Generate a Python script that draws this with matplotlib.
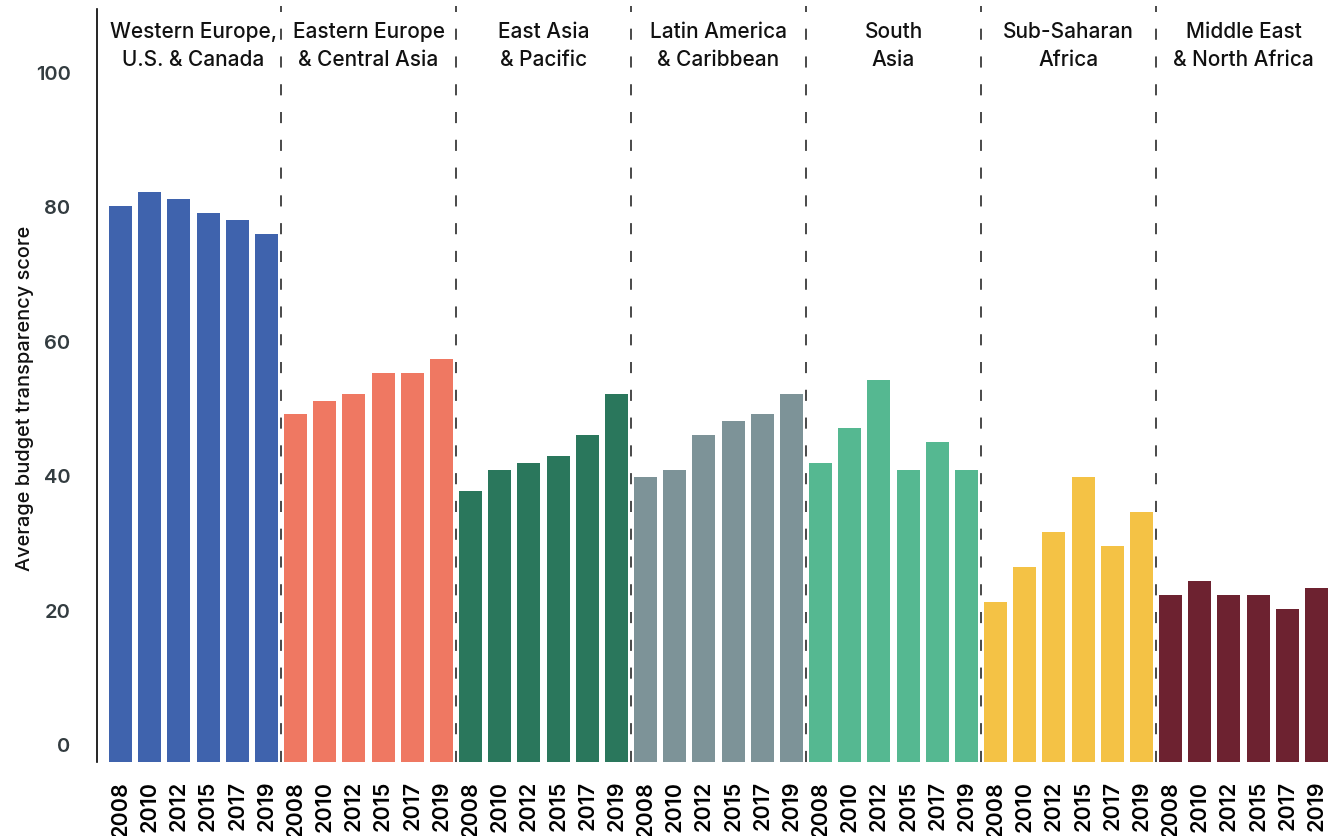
import matplotlib.pyplot as plt
import numpy as np

plt.rcParams['font.family'] = ['Inter', 'DejaVu Sans']
plt.rcParams['lines.scale_dashes'] = False

regions = ['Western Europe,\nU.S. & Canada', 'Eastern Europe\n& Central Asia',
           'East Asia\n& Pacific', 'Latin America\n& Caribbean', 'South\nAsia',
           'Sub-Saharan\nAfrica', 'Middle East\n& North Africa']
years = ['2008', '2010', '2012', '2015', '2017', '2019']
colors = ['#3f63ad', '#ef7862', '#2a775c', '#7d9398', '#55b891', '#f4c245', '#6d2230']

western = [80.1, 82.2, 81.1, 79.0, 78.0, 75.9]
eastern = [49.1, 51.0, 52.1, 55.2, 55.2, 57.3]
east_asia = [37.6, 40.8, 41.8, 42.9, 46.0, 52.1]
latin = [39.7, 40.8, 46.0, 48.1, 49.1, 52.1]
south_asia = [41.8, 47.0, 54.2, 40.8, 44.9, 40.8]
ssa = [21.1, 26.3, 31.5, 39.7, 29.5, 34.5]
mena = [22.2, 24.3, 22.2, 22.2, 20.1, 23.2]
series = [western, eastern, east_asia, latin, south_asia, ssa, mena]

fig = plt.figure(figsize=(13.36, 8.37), dpi=100)
ax = fig.add_axes([0.0726, 0.0888, 0.9237, 0.905])

y_bottom = -2.63
n = len(years)
for g, vals in enumerate(series):
    x = np.arange(n) + g * n
    ax.bar(x, np.array(vals) - y_bottom, bottom=y_bottom, width=0.79,
           color=colors[g], zorder=2)
    if g > 0:
        ax.axvline(g * n - 0.5, ymin=0, ymax=0.997, color='#2a2a2a', lw=1.2,
                   dashes=(8, 12), zorder=1)
    ax.text(g * n + (n - 1) / 2, 0.946, regions[g], transform=ax.get_xaxis_transform(),
            ha='center', va='center', fontsize=15, fontweight='medium',
            color='#111111', linespacing=1.45)

ax.set_xlim(-0.81, len(series) * n - 0.5)
ax.set_ylim(y_bottom, 110.1)

ax.set_xticks(np.arange(len(series) * n))
ax.set_xticklabels(years * len(series), rotation=90, fontsize=15.5,
                   fontweight='semibold', color='#000000')
ax.tick_params(axis='x', length=0, pad=13)
ax.set_yticks([0, 20, 40, 60, 80, 100])
ax.tick_params(axis='y', length=0, pad=19, labelsize=14.5, labelcolor='#333c40')
for lbl in ax.get_yticklabels():
    lbl.set_fontweight('semibold')

ax.set_ylabel('Average budget transparency score', fontsize=14.4,
              fontweight='medium', color='#111111')
ax.yaxis.set_label_coords(-0.051, 0.481)

for s in ['top', 'right', 'bottom']:
    ax.spines[s].set_visible(False)
ax.spines['left'].set_bounds(y_bottom, 109.4)
ax.spines['left'].set_linewidth(1.2)

plt.savefig('out.png', dpi=100)
plt.close()
